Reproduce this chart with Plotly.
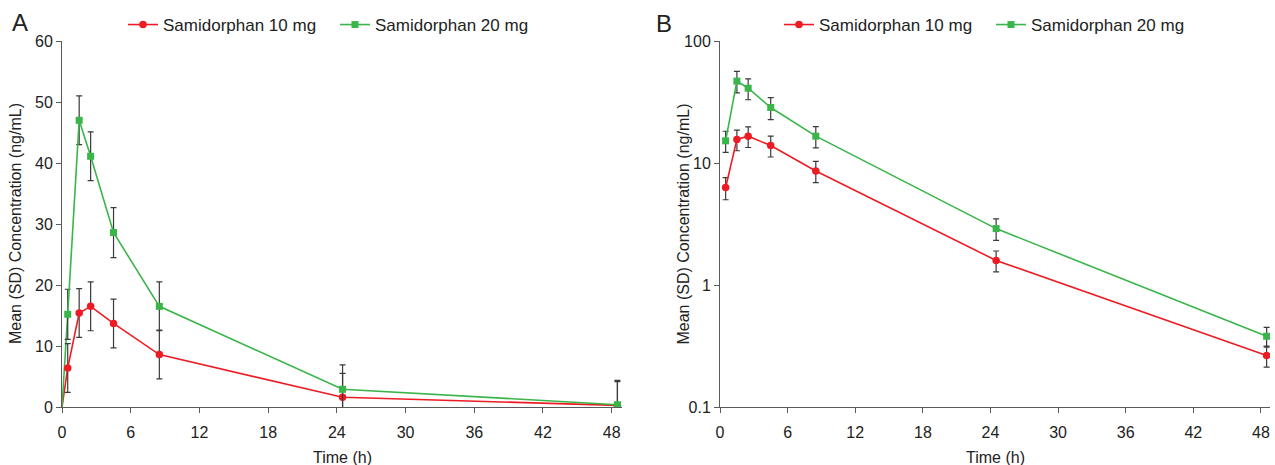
import plotly.graph_objects as go

# ---- Data ----
time_a = [0, 0.5, 1.5, 2.5, 4.5, 8.5, 24.5, 48.5]
red_a = [0, 6.4, 15.4, 16.5, 13.7, 8.6, 1.6, 0.26]
red_a_sd = [0, 4.0, 4.0, 4.0, 4.0, 4.0, 3.9, 3.9]
green_a = [0, 15.2, 47.0, 41.1, 28.6, 16.5, 2.9, 0.38]
green_a_sd = [0, 4.1, 4.0, 4.0, 4.1, 4.0, 4.0, 4.0]

time_b = [0.5, 1.5, 2.5, 4.5, 8.5, 24.5, 48.5]
red_b = [6.3, 15.6, 16.6, 13.9, 8.6, 1.59, 0.264]
red_b_sd = [1.3, 3.0, 3.2, 2.7, 1.7, 0.31, 0.052]
green_b = [15.2, 46.9, 41.0, 28.5, 16.6, 2.9, 0.38]
green_b_sd = [3.0, 9.4, 8.0, 5.8, 3.3, 0.58, 0.07]

x_ticks = [0, 6, 12, 18, 24, 30, 36, 42, 48]
y_ticks_a = [0, 10, 20, 30, 40, 50, 60]
y_ticks_b = [0.1, 1, 10, 100]
y_ticktext_b = ["0.1", "1", "10", "100"]

series_names = ["Samidorphan 10 mg", "Samidorphan 20 mg"]

RED = "#ED1C24"
GREEN = "#3AB54A"
ERR = "#3a3a3a"
AXIS = "#5a5a5a"
TXT = "#222222"
FONT = "Arial, Liberation Sans, sans-serif"

W, H = 1275, 465
PLOT_TOP, PLOT_BOT = 41, 407          # page pixels
PH = PLOT_BOT - PLOT_TOP


def px(xp):
    return xp / W


def py(yp):
    return (PLOT_BOT - yp) / PH


fig = go.Figure()


def err(arr):
    return dict(type="data", array=arr, visible=True, color=ERR, thickness=1.2, width=3)


MS = 7.5

# Panel A: segment from the origin (pre-dose) without marker
fig.add_trace(go.Scatter(x=time_a[:2], y=red_a[:2], mode="lines", line=dict(color=RED, width=1.6),
                         showlegend=False, hoverinfo="skip", xaxis="x", yaxis="y"))
fig.add_trace(go.Scatter(x=time_a[:2], y=green_a[:2], mode="lines", line=dict(color=GREEN, width=1.6),
                         showlegend=False, hoverinfo="skip", xaxis="x", yaxis="y"))
fig.add_trace(go.Scatter(
    x=time_a[1:], y=red_a[1:], name=series_names[0], mode="lines+markers",
    line=dict(color=RED, width=1.6),
    marker=dict(symbol="circle", size=MS, color=RED),
    error_y=err(red_a_sd[1:]), xaxis="x", yaxis="y", legend="legend"))
fig.add_trace(go.Scatter(
    x=time_a[1:], y=green_a[1:], name=series_names[1], mode="lines+markers",
    line=dict(color=GREEN, width=1.6),
    marker=dict(symbol="square", size=MS - 0.5, color=GREEN),
    error_y=err(green_a_sd[1:]), xaxis="x", yaxis="y", legend="legend"))

# Panel B
fig.add_trace(go.Scatter(
    x=time_b, y=red_b, name=series_names[0], mode="lines+markers",
    line=dict(color=RED, width=1.6),
    marker=dict(symbol="circle", size=MS, color=RED),
    error_y=err(red_b_sd), xaxis="x2", yaxis="y2", legend="legend2"))
fig.add_trace(go.Scatter(
    x=time_b, y=green_b, name=series_names[1], mode="lines+markers",
    line=dict(color=GREEN, width=1.6),
    marker=dict(symbol="square", size=MS - 0.5, color=GREEN),
    error_y=err(green_b_sd), xaxis="x2", yaxis="y2", legend="legend2"))

axis_common = dict(
    showline=True, linecolor=AXIS, linewidth=1, showgrid=False, zeroline=False,
    ticks="outside", ticklen=5, tickcolor=AXIS, tickwidth=1,
    tickfont=dict(family=FONT, size=16, color=TXT),
)
xaxis_common = dict(ticklabelstandoff=6, **axis_common)

legend_common = dict(
    orientation="h", yanchor="middle", xanchor="left",
    font=dict(family=FONT, size=17, color=TXT),
    bgcolor="rgba(0,0,0,0)", borderwidth=0, itemclick=False,
    entrywidth=167, entrywidthmode="pixels",
)

ax_a = (62, 622)
ax_b = (720, 1270)

title_font = dict(family=FONT, size=16, color=TXT)
annotations = [
    dict(text="A", x=px(19.5), y=py(22.5), xref="paper", yref="paper",
         xanchor="center", yanchor="middle", showarrow=False,
         font=dict(family=FONT, size=24, color=TXT)),
    dict(text="B", x=px(664), y=py(23.5), xref="paper", yref="paper",
         xanchor="center", yanchor="middle", showarrow=False,
         font=dict(family=FONT, size=24, color=TXT)),
    dict(text="Mean (SD) Concentration (ng/mL)", x=px(15), y=0.5, xref="paper", yref="paper",
         xanchor="center", yanchor="middle", textangle=-90, showarrow=False, font=title_font),
    dict(text="Mean (SD) Concentration (ng/mL)", x=px(682.5), y=0.5, xref="paper", yref="paper",
         xanchor="center", yanchor="middle", textangle=-90, showarrow=False, font=title_font),
    dict(text="Time (h)", x=px((ax_a[0] + ax_a[1]) / 2), y=py(457), xref="paper", yref="paper",
         xanchor="center", yanchor="middle", showarrow=False, font=title_font),
    dict(text="Time (h)", x=px((ax_b[0] + ax_b[1]) / 2), y=py(457), xref="paper", yref="paper",
         xanchor="center", yanchor="middle", showarrow=False, font=title_font),
]

fig.update_layout(
    width=W, height=H,
    margin=dict(l=0, r=0, t=PLOT_TOP, b=H - PLOT_BOT, autoexpand=False),
    paper_bgcolor="white", plot_bgcolor="white",
    xaxis=dict(domain=[px(ax_a[0]), px(ax_a[1])], range=[0, 48.9], tickvals=x_ticks,
               anchor="y", **xaxis_common),
    yaxis=dict(range=[0, 60], tickvals=y_ticks_a, anchor="x", **axis_common),
    xaxis2=dict(domain=[px(ax_b[0]), px(ax_b[1])], range=[0, 48.8], tickvals=x_ticks,
                anchor="y2", **xaxis_common),
    yaxis2=dict(type="log", range=[-1, 2], tickvals=y_ticks_b, ticktext=y_ticktext_b,
                anchor="x2", **axis_common),
    legend=dict(x=px(123), y=py(25), **legend_common),
    legend2=dict(x=px(779), y=py(25), **legend_common),
    annotations=annotations,
    showlegend=True,
    hovermode=False,
)

fig.write_html("out.html",
               config={"displayModeBar": False},
               post_script="document.body.style.margin='0';document.body.style.overflow='hidden';")
